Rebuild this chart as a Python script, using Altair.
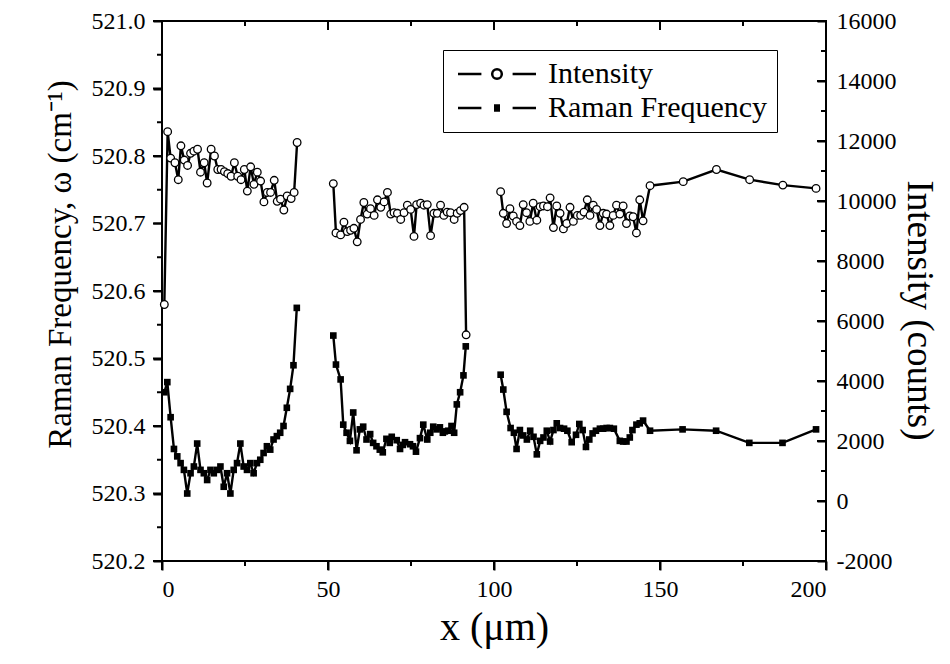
import altair as alt
import pandas as pd

FONT = "Liberation Serif"

# ---------------- data ----------------
SERIES = ["Intensity", "Raman Frequency"]

# Intensity (counts) - open circles, right axis
INT_X_1 = [0.7,1.7,2.6,3.9,4.9,5.7,6.7,7.7,8.6,9.6,10.7,11.6,12.7,13.6,14.8,15.8,16.8,17.8,18.8,19.8,20.8,
           21.8,22.8,23.8,24.8,25.7,26.7,27.7,28.7,29.7,30.7,31.7,32.7,33.8,34.7,35.7,36.7,37.7,38.9,39.8,40.7]
INT_C_1 = [6550,12310,11430,11275,10710,11840,11365,11185,11590,11660,11725,10960,11275,10600,11725,11500,11050,
           11050,10980,10915,10825,11275,10825,10710,11050,10330,11140,10555,10960,10665,9970,10285,10285,10690,
           9990,10060,9700,10170,10080,10285,11950]
INT_X_2 = [51.6,52.4,53.8,54.8,55.8,56.8,57.8,58.8,59.8,60.8,61.8,62.8,63.9,64.9,65.9,66.9,67.9,68.9,69.9,70.9,
           71.9,72.9,73.9,74.9,75.9,76.7,77.9,78.9,79.9,80.9,81.9,82.9,83.9,84.9,85.9,86.9,88.0,88.9,89.9,91.0,91.6]
INT_C_2 = [10580,8935,8870,9295,8980,9025,9090,8640,9385,9950,9565,9745,9520,10040,9790,9970,10285,9565,9610,9590,
           9385,9610,9860,9720,8820,9880,9925,9860,9880,8845,9590,9590,9860,9520,9630,9610,9385,9590,9680,9790,5540]
INT_X_3 = [102.0,102.8,103.8,104.8,105.8,106.8,107.8,108.8,109.8,110.8,111.8,112.9,113.9,114.9,116.1,116.9,117.9,
           118.9,119.9,120.9,121.9,122.9,123.9,125.1,126.1,127.1,128.1,128.9,129.9,130.9,131.9,132.9,133.9,134.9,
           135.9,136.9,137.9,138.9,139.9,140.9,141.9,142.9,143.9,144.9,147.0,157.0,167.0,177.0,187.0,197.0]
INT_C_3 = [10310,9590,9250,9745,9500,9320,9180,9880,9610,9320,9925,9360,9810,9835,9810,10105,9115,9835,9590,9070,
           9250,9790,9320,9520,9520,9630,10040,9520,9860,9720,9180,9590,9565,9180,9520,9860,9565,9835,9250,9500,
           9475,8935,10040,9340,10510,10645,11050,10710,10530,10420]

# Raman frequency (cm^-1) - filled squares, left axis
RAM_X_1 = [0.7] + [round(1.6 + i, 1) for i in range(40)]
RAM_W_1 = [520.45,520.465,520.413,520.366,520.355,520.345,520.335,520.30,520.33,520.34,520.374,520.335,520.33,
           520.32,520.335,520.33,520.335,520.34,520.31,520.33,520.30,520.335,520.345,520.374,520.34,520.335,
           520.345,520.33,520.345,520.35,520.36,520.37,520.365,520.38,520.385,520.39,520.40,520.427,520.455,
           520.49,520.575]
RAM_X_2 = [51.6,52.4,53.8,54.6,55.6,56.6,57.6,58.6,59.6,60.6,61.6,62.7,63.6,64.6,65.6,66.5,67.6,68.6,69.2,70.7,
           71.7,72.5,73.2,74.7,75.6,76.5,77.7,78.7,79.9,80.8,81.7,82.7,83.7,84.6,85.2,86.2,87.2,88.0,88.8,89.8,
           90.8,91.5]
RAM_W_2 = [520.534,520.491,520.469,520.402,520.39,520.378,520.42,520.364,520.395,520.399,520.38,520.388,520.375,
           520.37,520.365,520.361,520.381,520.375,520.384,520.379,520.366,520.372,520.376,520.373,520.37,520.362,
           520.382,520.402,520.38,520.39,520.399,520.395,520.398,520.39,520.392,520.393,520.40,520.39,520.432,
           520.45,520.475,520.518]
RAM_X_3 = [102.0,102.8,103.8,105.0,106.0,106.8,107.8,108.8,109.9,110.9,111.9,112.9,113.9,114.9,115.9,116.9,117.9,
           118.9,119.9,121.1,122.1,123.4,124.7,125.7,126.7,127.7,128.7,129.7,130.7,131.9,132.9,133.9,134.9,136.1,
           137.9,138.9,139.9,140.9,141.7,142.9,143.9,144.9,147.0,156.8,166.9,176.9,186.9,197.0]
RAM_W_3 = [520.476,520.454,520.421,520.397,520.39,520.366,520.394,520.386,520.38,520.393,520.384,520.358,520.378,
           520.383,520.393,520.377,520.394,520.404,520.397,520.396,520.393,520.376,520.387,520.403,520.394,520.369,
           520.38,520.389,520.393,520.396,520.396,520.397,520.397,520.396,520.378,520.377,520.377,520.383,520.394,
           520.402,520.404,520.408,520.393,520.395,520.393,520.375,520.375,520.395]

X_DOMAIN = [0, 200]
W_DOMAIN = [520.2, 521.0]
C_DOMAIN = [-2000, 16000]
X_MAJOR = [0, 50, 100, 150, 200]
X_MINOR = [25, 75, 125, 175]
W_MAJOR = [520.2, 520.3, 520.4, 520.5, 520.6, 520.7, 520.8, 520.9, 521.0]
W_MINOR = [520.25, 520.35, 520.45, 520.55, 520.65, 520.75, 520.85, 520.95]
C_MAJOR = [-2000, 0, 2000, 4000, 6000, 8000, 10000, 12000, 14000, 16000]
C_MINOR = [-1000, 1000, 3000, 5000, 7000, 9000, 11000, 13000, 15000]

W_PX, H_PX = 664, 540          # plot area size
MAJ, MIN, TW = 9, 5, 2         # tick lengths and width (px)


def build(xs_list, ys_list, name):
    rows = []
    k = 0
    for seg, (xs, ys) in enumerate(zip(xs_list, ys_list)):
        for xv, yv in zip(xs, ys):
            rows.append({"x": xv, "y": yv, "seg": seg, "idx": k, "series": name})
            k += 1
    return pd.DataFrame(rows)


int_df = build([INT_X_1, INT_X_2, INT_X_3], [INT_C_1, INT_C_2, INT_C_3], "Intensity")
ram_df = build([RAM_X_1, RAM_X_2, RAM_X_3], [RAM_W_1, RAM_W_2, RAM_W_3], "Raman Frequency")

xscale = alt.Scale(domain=X_DOMAIN, nice=False, zero=False)
wscale = alt.Scale(domain=W_DOMAIN, nice=False, zero=False)
cscale = alt.Scale(domain=C_DOMAIN, nice=False, zero=False)

common = dict(domain=False, grid=False, ticks=True, tickColor="#000000", tickWidth=TW, tickOpacity=1,
              labelFont=FONT, labelFontSize=24, labelColor="black",
              titleFont=FONT, titleFontSize=32, titleColor="black", titleFontWeight="normal")


def ax(**kw):
    d = dict(common)
    d.update(kw)
    return alt.Axis(**d)


# ----- frame tick marks as short line segments (tick value -> edge, length converted from px) -----
def edge_ticks(values, edge_value, length_px, axis_dir, ydomain):
    rows = []
    if axis_dir == "x":
        step = length_px / H_PX * (ydomain[1] - ydomain[0])
        for i, v in enumerate(values):
            rows += [{"x": v, "y": edge_value, "id": i, "k": 0},
                     {"x": v, "y": edge_value - step, "id": i, "k": 1}]
    else:
        step = length_px / W_PX * (X_DOMAIN[1] - X_DOMAIN[0])
        for i, v in enumerate(values):
            rows += [{"x": edge_value, "y": v, "id": i, "k": 0},
                     {"x": edge_value - step, "y": v, "id": i, "k": 1}]
    yscale = alt.Scale(domain=ydomain, nice=False, zero=False)
    return alt.Chart(pd.DataFrame(rows)).mark_line(color="black", strokeWidth=TW, strokeCap="butt").encode(
        x=alt.X("x:Q", scale=xscale, axis=None),
        y=alt.Y("y:Q", scale=yscale, axis=None),
        detail="id:N",
        order="k:Q",
    )


# ---------- left group (Raman frequency) ----------
ram_base = alt.Chart(ram_df)

ram_line = ram_base.mark_line(color="black", strokeWidth=2.4).encode(
    x=alt.X("x:Q", scale=xscale,
            axis=ax(orient="bottom", values=X_MAJOR, tickSize=MAJ, labelPadding=7,
                    title="x (μm)", titleFontSize=40, titlePadding=6)),
    y=alt.Y("y:Q", scale=wscale,
            axis=ax(orient="left", values=W_MAJOR, format=".1f", tickSize=MAJ, labelPadding=8,
                    title="Raman Frequency, ω (cm⁻¹)", titleFontSize=33, titlePadding=14, titleY=243)),
    detail="seg:N",
    order="idx:Q",
)

ram_pts = ram_base.mark_point(shape="square", filled=True, color="black", size=44, opacity=1).encode(
    x=alt.X("x:Q", scale=xscale, axis=None),
    y=alt.Y("y:Q", scale=wscale, axis=None),
)

tick_layers_left = [
    edge_ticks(X_MAJOR, W_DOMAIN[0], MAJ, "x", W_DOMAIN),   # bottom, outward
    edge_ticks(X_MINOR, W_DOMAIN[0], MIN, "x", W_DOMAIN),
    edge_ticks(X_MAJOR, W_DOMAIN[1], MAJ, "x", W_DOMAIN),   # top, inward
    edge_ticks(X_MINOR, W_DOMAIN[1], MIN, "x", W_DOMAIN),
    edge_ticks(W_MAJOR, X_DOMAIN[0], MAJ, "y", W_DOMAIN),   # left, outward
    edge_ticks(W_MINOR, X_DOMAIN[0], MIN, "y", W_DOMAIN),
]

# legend glyphs: dash - marker - dash (unit coordinates scaled by sqrt(symbolSize)/2 = 12 px)
P_INT = ("M-3.25,0L-1.3,0M1.3,0L3.25,0"
         "M-0.4,0A0.4,0.4,0,1,1,0.4,0A0.4,0.4,0,1,1,-0.4,0Z")
P_RAM = ("M-3.25,0L-1.3,0M1.3,0L3.25,0"
         "M-0.25,-0.2L0.25,-0.2M-0.25,-0.1L0.25,-0.1M-0.25,0L0.25,0"
         "M-0.25,0.1L0.25,0.1M-0.25,0.2L0.25,0.2")

leg = alt.Legend(title=None, orient="none", legendX=281, legendY=29,
                 strokeColor="black", fillColor="white", padding=9,
                 labelFont=FONT, labelFontSize=30, labelColor="black", labelOffset=36, labelLimit=600,
                 symbolSize=576, symbolOffset=30, symbolStrokeColor="black", symbolStrokeWidth=2.5,
                 symbolType="circle", rowPadding=4)

legend_layer = ram_base.mark_point(filled=False, color="black", strokeWidth=2.5, opacity=1).encode(
    x=alt.X("x:Q", scale=xscale, axis=None),
    y=alt.Y("y:Q", scale=wscale, axis=None),
    shape=alt.Shape("series:N", scale=alt.Scale(domain=SERIES, range=[P_INT, P_RAM]), legend=leg),
).transform_filter("false")

left = alt.layer(ram_line, ram_pts, *tick_layers_left, legend_layer).resolve_axis(
    x="independent", y="independent")

# ---------- right group (Intensity) ----------
int_base = alt.Chart(int_df)
int_line = int_base.mark_line(color="black", strokeWidth=2.4).encode(
    x=alt.X("x:Q", scale=xscale, axis=None),
    y=alt.Y("y:Q", scale=cscale,
            axis=ax(orient="right", values=C_MAJOR, tickSize=MAJ, offset=-MAJ, labelPadding=10,
                    labelExpr="'' + datum.value",
                    title="Intensity (counts)", titleAngle=90, titleFontSize=37, titlePadding=3,
                    titleY=289)),
    detail="seg:N",
    order="idx:Q",
)
int_pts = int_base.mark_point(shape="circle", filled=True, fill="white", stroke="black",
                              strokeWidth=1.3, size=58, opacity=1).encode(
    x=alt.X("x:Q", scale=xscale, axis=None),
    y=alt.Y("y:Q", scale=cscale, axis=None),
)
right = alt.layer(
    int_line,
    edge_ticks(C_MAJOR, X_DOMAIN[1], MAJ, "y", C_DOMAIN),   # right, inward
    edge_ticks(C_MINOR, X_DOMAIN[1], MIN, "y", C_DOMAIN),
    int_pts,
).resolve_axis(x="independent", y="independent")

chart = alt.layer(left, right).resolve_scale(y="independent").resolve_axis(
    x="independent", y="independent"
).properties(
    width=W_PX, height=H_PX,
    autosize=alt.AutoSizeParams(type="none"),
    padding={"left": 154, "top": 13, "right": 116, "bottom": 95},
    background="white",
).configure_view(stroke="black", strokeWidth=2)

chart.save("out.html", embed_options={"renderer": "svg", "actions": False})
